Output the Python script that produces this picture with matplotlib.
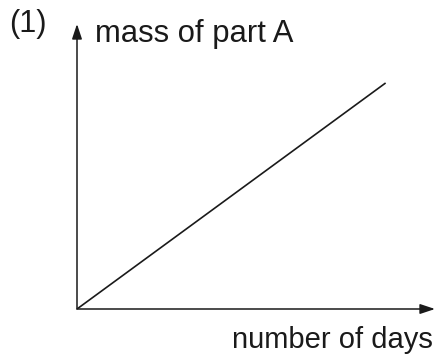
import matplotlib
matplotlib.use("Agg")
import matplotlib.pyplot as plt

# data
days = [0, 10]
mass = [0, 9.2]
x_label = "number of days"
y_label = "mass of part A"
panel_label = "(1)"

W, H = 441, 358
fig = plt.figure(figsize=(W / 100, H / 100), dpi=100)
plt.rcParams['font.family'] = ['Liberation Sans', 'DejaVu Sans']

ox, oy = 77, 309
ax = fig.add_axes([ox / W, (H - oy) / H, (435 - ox) / W, (oy - 24) / H])
ax.set_xlim(0, 11.6)
ax.set_ylim(0, 11.6)
ax.axis('off')

col = '#1a1a1a'
ax.plot(days, mass, color=col, lw=1.2, solid_capstyle='butt')

arrow_kw = dict(arrowstyle='-|>,head_length=0.9,head_width=0.3', color=col, lw=1.1,
                shrinkA=0, shrinkB=0)
ax.annotate('', xy=(1, 0), xytext=(0, 0), xycoords='axes fraction',
            textcoords='axes fraction', arrowprops=arrow_kw)
ax.annotate('', xy=(0, 1), xytext=(0, 0), xycoords='axes fraction',
            textcoords='axes fraction', arrowprops=arrow_kw)

fig.text(9 / W, 1 - 32 / H, panel_label, fontsize=22, color=col, va='baseline', ha='left')
fig.text(95 / W, 1 - 42 / H, y_label, fontsize=22.3, color=col, va='baseline', ha='left')
fig.text(433 / W, 1 - 348 / H, x_label, fontsize=21, color=col, va='baseline', ha='right')

fig.savefig('out.png', dpi=100, facecolor='white')
